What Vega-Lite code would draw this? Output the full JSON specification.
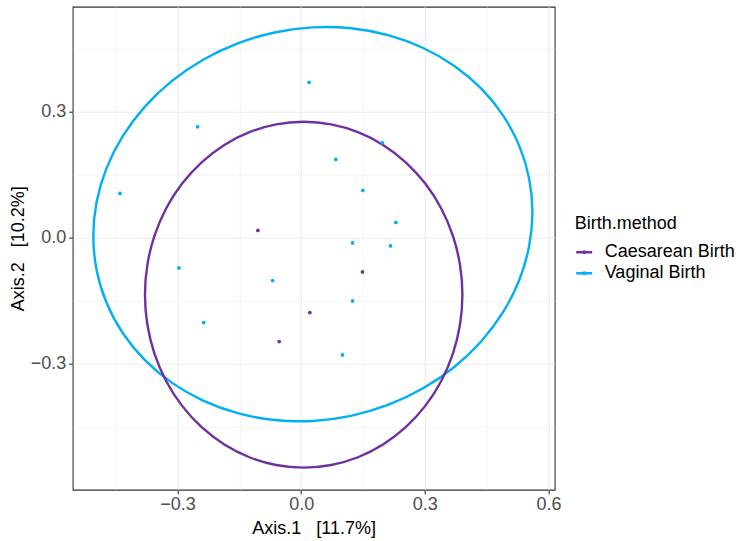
{
  "$schema": "https://vega.github.io/schema/vega-lite/v6.json",
  "autosize": "none",
  "width": 482,
  "height": 483,
  "padding": {"left": 72.7, "top": 6.7, "right": 184.3, "bottom": 51.3},
  "background": "white",
  "config": {
    "font": "Liberation Sans",
    "view": {"stroke": "#333333", "strokeWidth": 1.1},
    "axis": {
      "domain": false,
      "gridColor": "#EBEBEB",
      "tickColor": "#333333",
      "tickSize": 4,
      "tickWidth": 1.1,
      "labelColor": "#4D4D4D",
      "labelFontSize": 18,
      "labelFont": "Liberation Sans",
      "titleFont": "Liberation Sans",
      "titleFontSize": 18,
      "titleFontWeight": "normal",
      "titleColor": "#000000"
    },
    "legend": {
      "titleFont": "Liberation Sans",
      "titleFontSize": 18,
      "titleFontWeight": "normal",
      "titleColor": "#000000",
      "labelFont": "Liberation Sans",
      "labelFontSize": 18,
      "labelColor": "#000000"
    }
  },
  "datasets": {
    "pts": [
      {"x": 0.0194, "y": 0.3690, "group": "Vaginal Birth"},
      {"x": -0.2512, "y": 0.2633, "group": "Vaginal Birth"},
      {"x": -0.4395, "y": 0.1048, "group": "Vaginal Birth"},
      {"x": 0.0841, "y": 0.1857, "group": "Vaginal Birth"},
      {"x": 0.1973, "y": 0.2252, "group": "Vaginal Birth"},
      {"x": 0.1496, "y": 0.1119, "group": "Vaginal Birth"},
      {"x": 0.2296, "y": 0.0357, "group": "Vaginal Birth"},
      {"x": 0.2167, "y": -0.0200, "group": "Vaginal Birth"},
      {"x": 0.1246, "y": -0.0129, "group": "Vaginal Birth"},
      {"x": -0.2965, "y": -0.0724, "group": "Vaginal Birth"},
      {"x": -0.0693, "y": -0.1024, "group": "Vaginal Birth"},
      {"x": 0.1246, "y": -0.1510, "group": "Vaginal Birth"},
      {"x": -0.2366, "y": -0.2024, "group": "Vaginal Birth"},
      {"x": 0.1004, "y": -0.2795, "group": "Vaginal Birth"},
      {"x": -0.1050, "y": 0.0167, "group": "Caesarean Birth"},
      {"x": 0.1488, "y": -0.0819, "group": "Caesarean Birth"},
      {"x": 0.0211, "y": -0.1786, "group": "Caesarean Birth"},
      {"x": -0.0533, "y": -0.2476, "group": "Caesarean Birth"}
    ],
    "ell": [
      {"group": "Vaginal Birth", "i": 0, "x": 0.5610, "y": 0.0602},
      {"group": "Vaginal Birth", "i": 1, "x": 0.5528, "y": 0.1411},
      {"group": "Vaginal Birth", "i": 2, "x": 0.5288, "y": 0.2186},
      {"group": "Vaginal Birth", "i": 3, "x": 0.4896, "y": 0.2905},
      {"group": "Vaginal Birth", "i": 4, "x": 0.4364, "y": 0.3545},
      {"group": "Vaginal Birth", "i": 5, "x": 0.3707, "y": 0.4086},
      {"group": "Vaginal Birth", "i": 6, "x": 0.2947, "y": 0.4514},
      {"group": "Vaginal Birth", "i": 7, "x": 0.2105, "y": 0.4813},
      {"group": "Vaginal Birth", "i": 8, "x": 0.1208, "y": 0.4976},
      {"group": "Vaginal Birth", "i": 9, "x": 0.0284, "y": 0.4998},
      {"group": "Vaginal Birth", "i": 10, "x": -0.0641, "y": 0.4877},
      {"group": "Vaginal Birth", "i": 11, "x": -0.1538, "y": 0.4618},
      {"group": "Vaginal Birth", "i": 12, "x": -0.2379, "y": 0.4228},
      {"group": "Vaginal Birth", "i": 13, "x": -0.3140, "y": 0.3719},
      {"group": "Vaginal Birth", "i": 14, "x": -0.3796, "y": 0.3107},
      {"group": "Vaginal Birth", "i": 15, "x": -0.4328, "y": 0.2410},
      {"group": "Vaginal Birth", "i": 16, "x": -0.4721, "y": 0.1649},
      {"group": "Vaginal Birth", "i": 17, "x": -0.4961, "y": 0.0848},
      {"group": "Vaginal Birth", "i": 18, "x": -0.5042, "y": 0.0031},
      {"group": "Vaginal Birth", "i": 19, "x": -0.4961, "y": -0.0778},
      {"group": "Vaginal Birth", "i": 20, "x": -0.4721, "y": -0.1553},
      {"group": "Vaginal Birth", "i": 21, "x": -0.4328, "y": -0.2272},
      {"group": "Vaginal Birth", "i": 22, "x": -0.3796, "y": -0.2911},
      {"group": "Vaginal Birth", "i": 23, "x": -0.3140, "y": -0.3453},
      {"group": "Vaginal Birth", "i": 24, "x": -0.2379, "y": -0.3880},
      {"group": "Vaginal Birth", "i": 25, "x": -0.1538, "y": -0.4180},
      {"group": "Vaginal Birth", "i": 26, "x": -0.0641, "y": -0.4343},
      {"group": "Vaginal Birth", "i": 27, "x": 0.0284, "y": -0.4364},
      {"group": "Vaginal Birth", "i": 28, "x": 0.1208, "y": -0.4244},
      {"group": "Vaginal Birth", "i": 29, "x": 0.2105, "y": -0.3985},
      {"group": "Vaginal Birth", "i": 30, "x": 0.2947, "y": -0.3594},
      {"group": "Vaginal Birth", "i": 31, "x": 0.3707, "y": -0.3086},
      {"group": "Vaginal Birth", "i": 32, "x": 0.4364, "y": -0.2473},
      {"group": "Vaginal Birth", "i": 33, "x": 0.4896, "y": -0.1777},
      {"group": "Vaginal Birth", "i": 34, "x": 0.5288, "y": -0.1016},
      {"group": "Vaginal Birth", "i": 35, "x": 0.5528, "y": -0.0215},
      {"group": "Caesarean Birth", "i": 0, "x": 0.3911, "y": -0.1362},
      {"group": "Caesarean Birth", "i": 1, "x": 0.3852, "y": -0.0648},
      {"group": "Caesarean Birth", "i": 2, "x": 0.3679, "y": 0.0045},
      {"group": "Caesarean Birth", "i": 3, "x": 0.3395, "y": 0.0695},
      {"group": "Caesarean Birth", "i": 4, "x": 0.3010, "y": 0.1282},
      {"group": "Caesarean Birth", "i": 5, "x": 0.2536, "y": 0.1789},
      {"group": "Caesarean Birth", "i": 6, "x": 0.1986, "y": 0.2201},
      {"group": "Caesarean Birth", "i": 7, "x": 0.1378, "y": 0.2504},
      {"group": "Caesarean Birth", "i": 8, "x": 0.0729, "y": 0.2689},
      {"group": "Caesarean Birth", "i": 9, "x": 0.0061, "y": 0.2752},
      {"group": "Caesarean Birth", "i": 10, "x": -0.0607, "y": 0.2689},
      {"group": "Caesarean Birth", "i": 11, "x": -0.1256, "y": 0.2504},
      {"group": "Caesarean Birth", "i": 12, "x": -0.1864, "y": 0.2201},
      {"group": "Caesarean Birth", "i": 13, "x": -0.2414, "y": 0.1789},
      {"group": "Caesarean Birth", "i": 14, "x": -0.2888, "y": 0.1282},
      {"group": "Caesarean Birth", "i": 15, "x": -0.3273, "y": 0.0695},
      {"group": "Caesarean Birth", "i": 16, "x": -0.3557, "y": 0.0045},
      {"group": "Caesarean Birth", "i": 17, "x": -0.3730, "y": -0.0648},
      {"group": "Caesarean Birth", "i": 18, "x": -0.3789, "y": -0.1362},
      {"group": "Caesarean Birth", "i": 19, "x": -0.3730, "y": -0.2076},
      {"group": "Caesarean Birth", "i": 20, "x": -0.3557, "y": -0.2769},
      {"group": "Caesarean Birth", "i": 21, "x": -0.3273, "y": -0.3419},
      {"group": "Caesarean Birth", "i": 22, "x": -0.2888, "y": -0.4006},
      {"group": "Caesarean Birth", "i": 23, "x": -0.2414, "y": -0.4513},
      {"group": "Caesarean Birth", "i": 24, "x": -0.1864, "y": -0.4925},
      {"group": "Caesarean Birth", "i": 25, "x": -0.1256, "y": -0.5228},
      {"group": "Caesarean Birth", "i": 26, "x": -0.0607, "y": -0.5413},
      {"group": "Caesarean Birth", "i": 27, "x": 0.0061, "y": -0.5476},
      {"group": "Caesarean Birth", "i": 28, "x": 0.0729, "y": -0.5413},
      {"group": "Caesarean Birth", "i": 29, "x": 0.1378, "y": -0.5228},
      {"group": "Caesarean Birth", "i": 30, "x": 0.1986, "y": -0.4925},
      {"group": "Caesarean Birth", "i": 31, "x": 0.2536, "y": -0.4513},
      {"group": "Caesarean Birth", "i": 32, "x": 0.3010, "y": -0.4006},
      {"group": "Caesarean Birth", "i": 33, "x": 0.3395, "y": -0.3419},
      {"group": "Caesarean Birth", "i": 34, "x": 0.3679, "y": -0.2769},
      {"group": "Caesarean Birth", "i": 35, "x": 0.3852, "y": -0.2076}
    ]
  },
  "encoding": {
    "x": {
      "field": "x", "type": "quantitative",
      "scale": {"domain": [-0.5542, 0.615], "nice": false, "zero": false},
      "axis": {
        "title": "Axis.1\u00a0\u00a0 [11.7%]",
        "values": [-0.45, -0.3, -0.15, 0, 0.15, 0.3, 0.45, 0.6],
        "labelExpr": "round(datum.value/0.15) % 2 == 0 ? format(datum.value, '.1f') : ''",
        "labelPadding": 2,
        "titlePadding": 6,
        "labelFlush": false,
        "labelOverlap": false,
        "gridWidth": {"condition": {"test": "round(datum.value/0.15) % 2 == 0", "value": 1.1}, "value": 0.55},
        "tickOpacity": {"condition": {"test": "round(datum.value/0.15) % 2 == 0", "value": 1}, "value": 0}
      }
    },
    "y": {
      "field": "y", "type": "quantitative",
      "scale": {"domain": [-0.6, 0.549], "nice": false, "zero": false},
      "axis": {
        "title": "Axis.2\u00a0\u00a0 [10.2%]",
        "values": [-0.45, -0.3, -0.15, 0, 0.15, 0.3, 0.45],
        "labelExpr": "round(datum.value/0.15) % 2 == 0 ? format(datum.value, '.1f') : ''",
        "labelPadding": 3,
        "titlePadding": 3,
        "labelFlush": false,
        "labelOverlap": false,
        "gridWidth": {"condition": {"test": "round(datum.value/0.15) % 2 == 0", "value": 1.1}, "value": 0.55},
        "tickOpacity": {"condition": {"test": "round(datum.value/0.15) % 2 == 0", "value": 1}, "value": 0}
      }
    },
    "color": {
      "field": "group", "type": "nominal",
      "scale": {"domain": ["Caesarean Birth", "Vaginal Birth"], "range": ["#7030A0", "#00B0F0"]},
      "legend": {
        "title": "Birth.method",
        "orient": "none",
        "legendX": 502,
        "legendY": 208,
        "titlePadding": 10,
        "rowPadding": 2,
        "symbolType": "M-1,0H1M-0.1,0a0.1,0.1 0 1,0 0.2,0a0.1,0.1 0 1,0 -0.2,0",
        "symbolSize": 256,
        "symbolStrokeWidth": 2.4,
        "labelOffset": 11
      }
    }
  },
  "layer": [
    {
      "data": {"name": "ell"},
      "mark": {"type": "line", "strokeWidth": 2.4, "interpolate": "cardinal-closed", "clip": true},
      "encoding": {"order": {"field": "i", "type": "quantitative"}}
    },
    {
      "data": {"name": "pts"},
      "mark": {"type": "point", "filled": true, "size": 14, "opacity": 1}
    }
  ]
}
